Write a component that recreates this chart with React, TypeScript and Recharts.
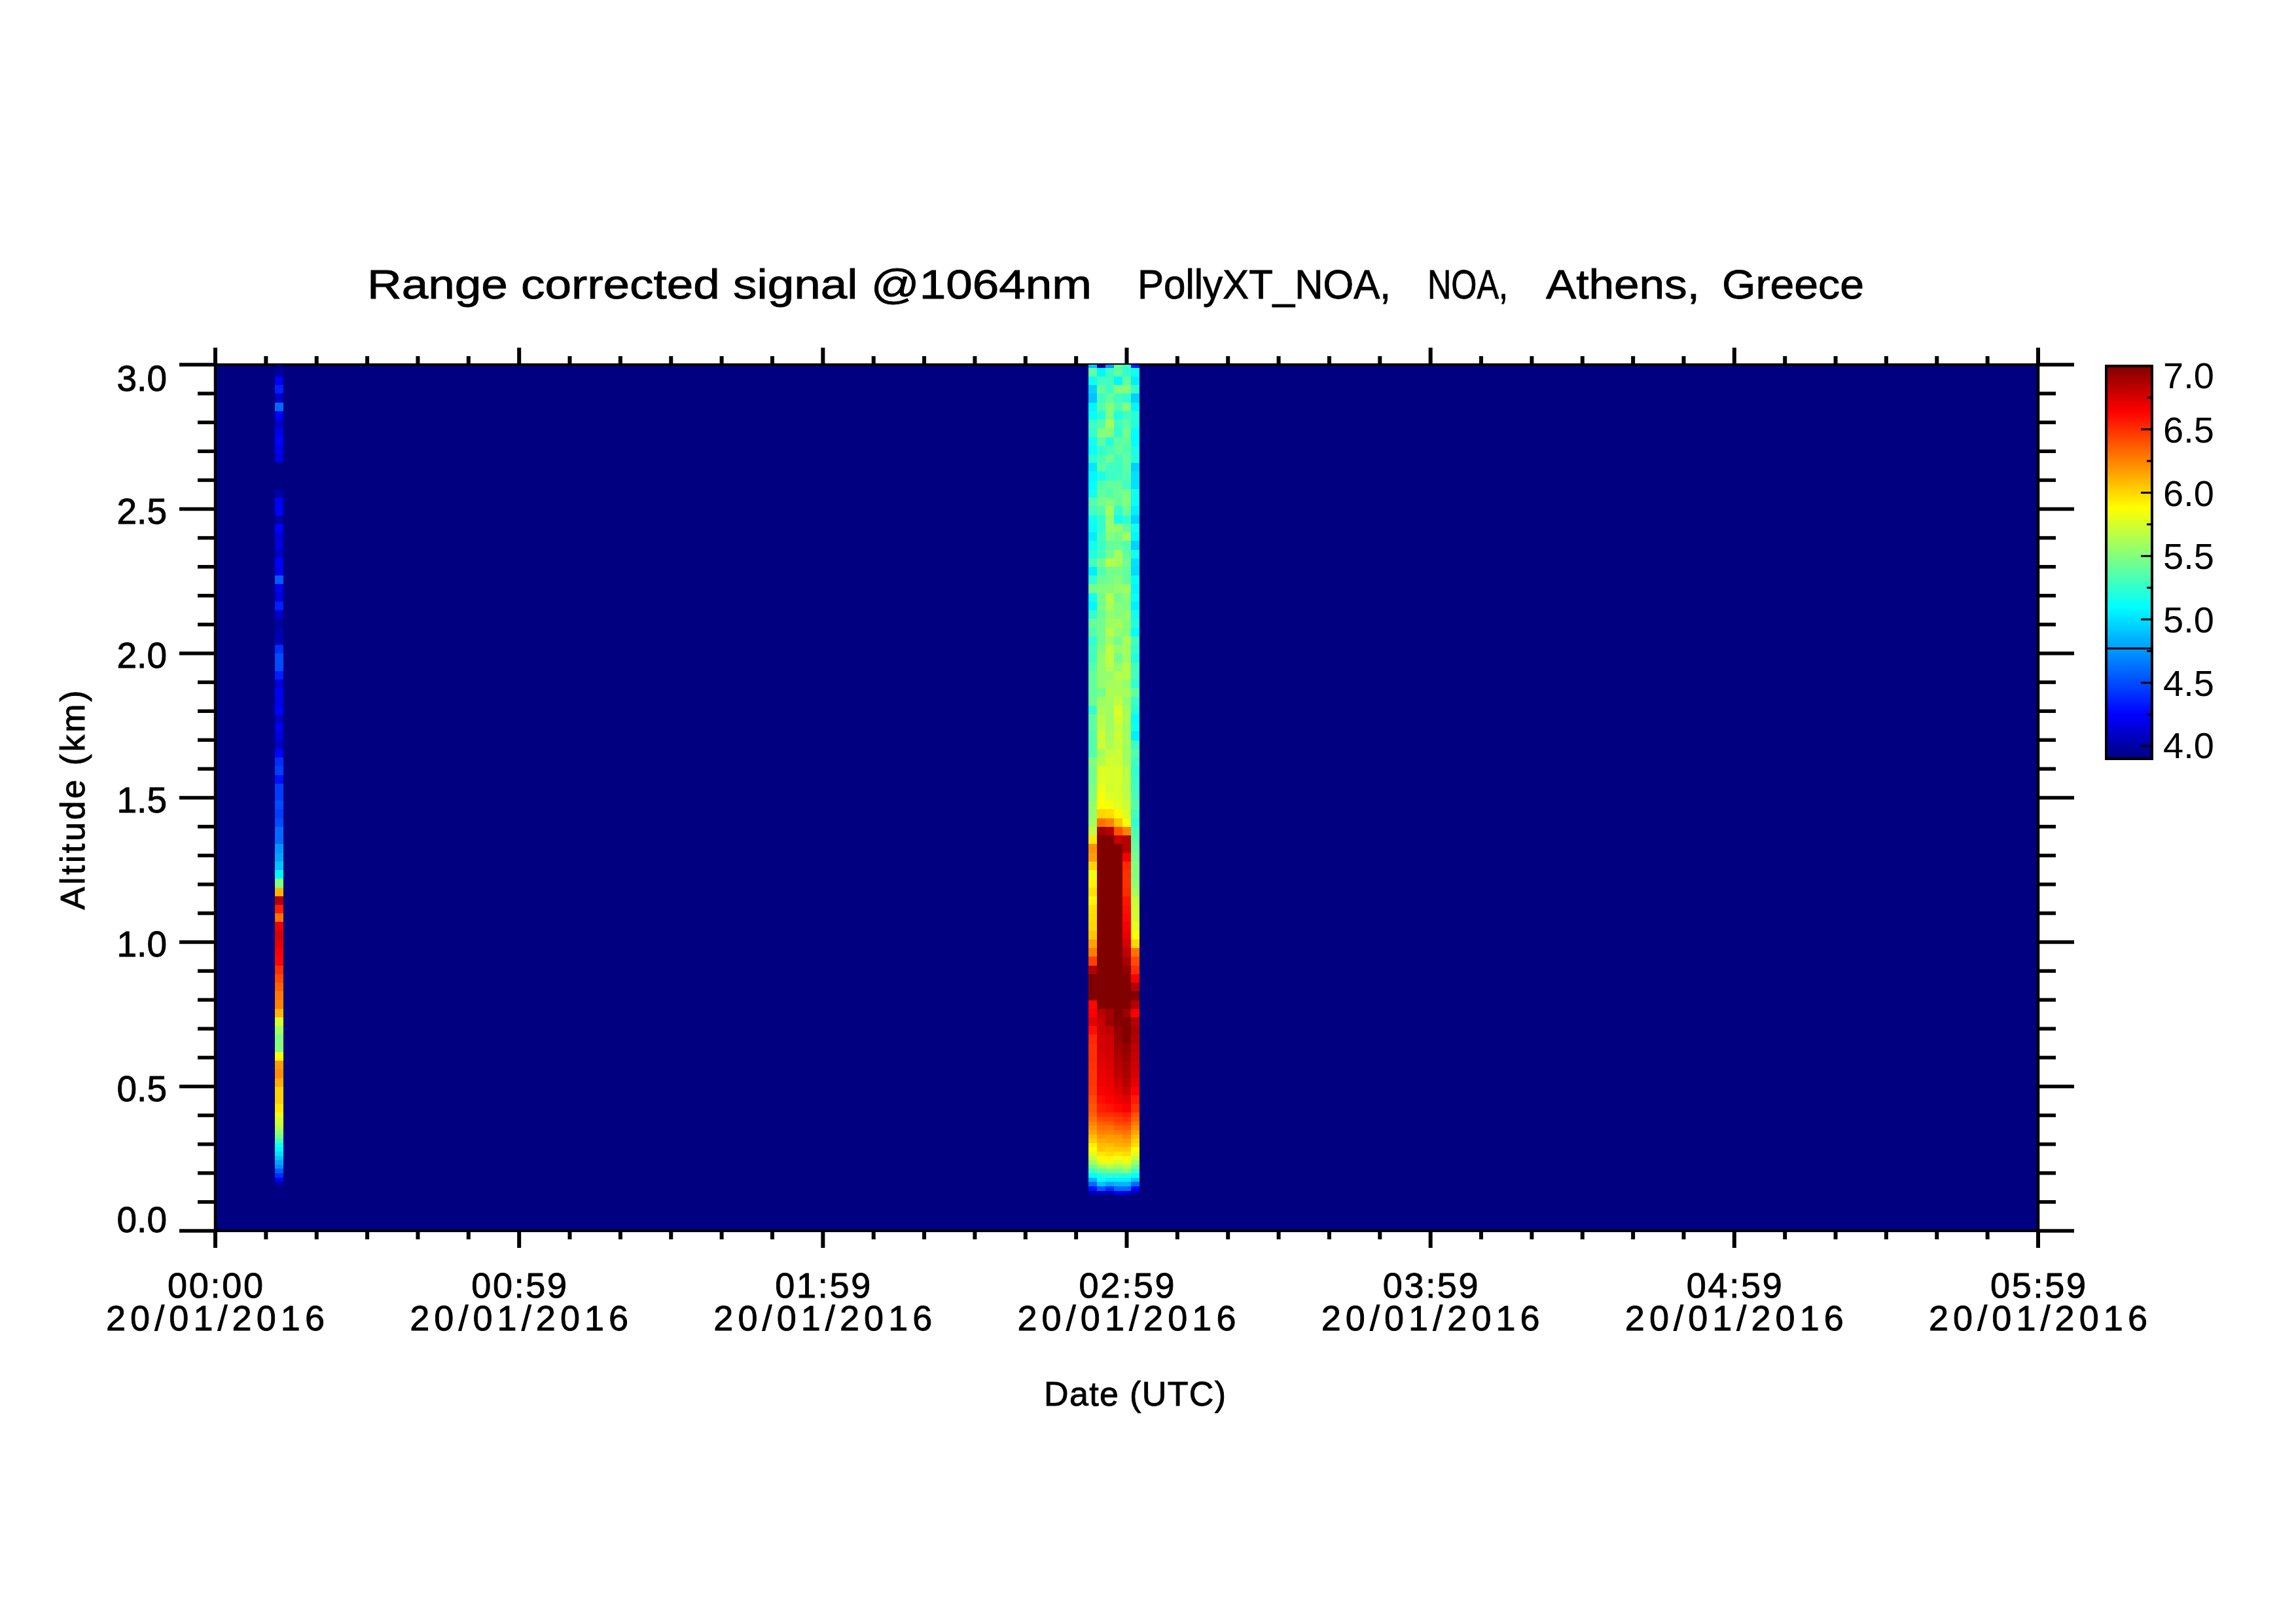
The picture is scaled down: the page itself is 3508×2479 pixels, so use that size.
import React from 'react';
import { ComposedChart, Bar, Scatter, XAxis, YAxis, CartesianGrid, ReferenceLine } from 'recharts';

const FONT = '"Liberation Sans", Arial, sans-serif';

// title words sit at their own positions, the plot font is narrow in capitals and wide in lowercase
const TITLE_PARTS: [string, string, number, number][] = [
  ['Range corrected signal @1064nm', '  ', 561, 1107],
  ['PollyXT_NOA,', ' ', 1738, 387],
  ['NOA,', ' ', 2181, 123],
  ['Athens,', ' ', 2362, 235],
  ['Greece', '', 2631, 217],
];
const TIME_LABELS = ['00:00', '00:59', '01:59', '02:59', '03:59', '04:59', '05:59'];
const DATE_LABEL = '20/01/2016';
const COLORBAR_LABELS = [4, 4.5, 5, 5.5, 6, 6.5, 7];
const COLORBAR_TICKS = [4, 4.25, 4.5, 4.75, 5, 5.25, 5.5, 5.75, 6, 6.25, 6.5, 6.75, 7];
const COLORBAR_DATA = [{ name: 'scale', range: [3.9, 7] }];
const COLOR_STOPS: [number, string][] = [
  [3.9, '#000080'],
  [4.25, '#0000ff'],
  [5.1, '#00ffff'],
  [5.88, '#ffff00'],
  [6.64, '#ff0000'],
  [7, '#800000'],
];

// minutes since 00:00, centre of each profile
const PROFILE_MINUTES = [12.51, 172.77, 174.45, 176.12, 177.8, 179.48, 181.15];
const PROFILE_WIDTH = 1.676;

// lower edge of each altitude bin (km), last entry closes the top bin
const ALTITUDE_EDGES = [
  0.125, 0.14, 0.155, 0.17, 0.185, 0.2, 0.215, 0.23, 0.245, 0.26, 0.275, 0.29, 0.305, 0.32, 0.335, 0.35, 0.365, 0.38, 0.395,
  0.41, 0.44, 0.47, 0.5, 0.53, 0.56, 0.59, 0.62, 0.65, 0.68, 0.71, 0.74, 0.77, 0.8, 0.83, 0.86, 0.89, 0.92, 0.95, 0.98,
  1.01, 1.04, 1.07, 1.1, 1.13, 1.16, 1.19, 1.22, 1.25, 1.28, 1.31, 1.34, 1.37, 1.4, 1.43, 1.46, 1.49, 1.52, 1.55, 1.58,
  1.61, 1.64, 1.67, 1.7, 1.73, 1.76, 1.79, 1.82, 1.85, 1.88, 1.91, 1.94, 1.97, 2.0, 2.03, 2.06, 2.09, 2.12, 2.15, 2.18,
  2.21, 2.24, 2.27, 2.3, 2.33, 2.36, 2.39, 2.42, 2.45, 2.48, 2.51, 2.54, 2.57, 2.6, 2.63, 2.66, 2.69, 2.72, 2.75, 2.78,
  2.81, 2.84, 2.87, 2.9, 2.93, 2.96, 2.99, 3.0,
];

const PROFILE_0 = [
  3.9, 3.9, 4.0, 4.25, 4.4, 4.55, 4.72, 4.8, 4.9, 5.0, 5.08, 5.15, 5.3, 5.45, 5.55, 5.65, 5.72, 5.75, 5.82,
  5.95, 6.02, 6.02, 6.12, 6.22, 6.18, 5.88, 5.52, 5.5, 5.6,
  5.75, 6.1, 6.25, 6.28, 6.35, 6.42, 6.5, 6.62, 6.65, 6.72,
  6.75, 6.7, 6.3, 6.55, 6.85, 6.1, 5.5, 5.08, 4.9, 4.8,
  4.75, 4.6, 4.6, 4.5, 4.45, 4.5, 4.45, 4.45, 4.3, 4.45,
  4.4, 4.25, 4.08, 4.15, 4.2, 4.1, 4.25, 4.2,
  4.22, 4.15, 4.35, 4.5, 4.5, 4.4, 4.05, 4.02, 3.98, 4.1, 4.35, 4.15, 4.2, 4.55, 4.2, 4.25, 4.1, 4.15, 4.15,
  4.25, 4.0, 4.25, 4.25, 4.0, 3.9, 3.9, 3.9, 4.15, 4.2, 4.25, 4.2, 4.1, 4.25, 4.6, 4.1, 4.35, 4.22, 3.98, 3.9,
];
const PROFILE_1 = [
  4.05, 4.3, 4.6, 4.85, 5.1, 5.3, 5.45, 5.6, 5.7, 5.8, 5.88, 5.93, 6.03, 6.08, 6.15, 6.2, 6.25, 6.3, 6.35,
  6.38, 6.42, 6.47, 6.48, 6.48, 6.49, 6.5, 6.5, 6.52, 6.6, 6.72, 6.65, 6.62, 7, 7, 7,
  6.85, 6.45, 6.27, 6.16, 6.05, 6.0, 5.98, 5.97, 5.9, 5.97,
  5.9, 5.83, 6.0, 6.17, 6.2, 5.95, 5.7, 5.6, 5.55, 5.55,
  5.5, 5.48, 5.45, 5.45, 5.5, 5.35, 5.35, 5.35, 5.38, 5.38, 5.25, 5.42,
  5.4, 5.4, 5.4, 5.35, 5.3, 5.3, 5.25, 5.35, 5.4, 5.25, 5.08, 5.15, 5.45, 5.25, 5.05, 5.3, 5.2, 5.15, 5.05,
  5.12, 5.15, 5.3, 5.35, 5.15, 5.1, 5.08, 5.03, 5.22, 5.12, 5.15, 5.25, 5.28, 5.12, 5.08, 4.9, 4.95, 5.15, 5.4, 4.9,
];
const PROFILE_2 = [
  4.1, 4.55, 4.9, 5.1, 5.2, 5.4, 5.6, 5.8, 5.9, 5.95, 6.05, 6.08, 6.12, 6.2, 6.25, 6.3, 6.35, 6.42, 6.5,
  6.55, 6.6, 6.66, 6.68, 6.7, 6.72, 6.74, 6.76, 6.76, 6.8, 6.8, 6.84,
  7, 7, 7, 7, 7, 7, 7, 7, 7, 7, 7, 7, 7, 7, 7, 7, 7, 7, 7, 7,
  6.9, 6.3, 6.0, 5.88, 5.85, 5.82, 5.78, 5.78, 5.65, 5.6, 5.72, 5.72, 5.68, 5.66, 5.62, 5.58,
  5.45, 5.55, 5.55, 5.55, 5.55, 5.5, 5.45, 5.45, 5.45, 5.42, 5.45, 5.45, 5.5, 5.42, 5.35, 5.45, 5.3, 5.28, 5.3,
  5.25, 5.25, 5.35, 5.45, 5.4, 5.35, 5.18, 5.38, 5.32, 5.25, 5.38, 5.5, 5.35, 5.22, 5.35, 5.3, 5.4, 5.3, 5.08, 4.0,
];
const PROFILE_3 = [
  4.05, 4.4, 4.8, 5.05, 5.2, 5.45, 5.65, 5.8, 5.9, 5.98, 6.03, 6.08, 6.15, 6.18, 6.25, 6.3, 6.37, 6.43, 6.5,
  6.58, 6.64, 6.67, 6.7, 6.72, 6.74, 6.76, 6.77, 6.78, 6.82, 6.92, 6.9,
  7, 7, 7, 7, 7, 7, 7, 7, 7, 7, 7, 7, 7, 7, 7, 7, 7, 7, 7, 7,
  6.85, 6.25, 5.98, 5.85, 5.78, 5.74, 5.76, 5.76, 5.74, 5.7, 5.62, 5.6, 5.58, 5.58, 5.58, 5.6,
  5.62, 5.6, 5.55, 5.65, 5.68, 5.68, 5.58, 5.65, 5.58, 5.55, 5.62, 5.65, 5.5, 5.45, 5.45, 5.65, 5.45, 5.4, 5.5,
  5.55, 5.55, 5.6, 5.5, 5.35, 5.4, 5.28, 5.3, 5.42, 5.32, 5.22, 5.5, 5.6, 5.48, 5.5, 5.4, 5.3, 5.3, 5.28, 4.75,
];
const PROFILE_4 = [
  4.2, 4.6, 4.85, 5.05, 5.2, 5.45, 5.6, 5.75, 5.85, 5.95, 6.05, 6.12, 6.15, 6.2, 6.28, 6.35, 6.42, 6.47, 6.52,
  6.62, 6.68, 6.74, 6.78, 6.82, 6.84, 6.87, 6.9, 6.93, 6.95, 6.98,
  7, 7, 7, 7, 7, 7, 7, 7, 7, 7, 7, 7, 7, 7, 7, 7, 7, 7, 7, 7,
  6.8, 6.4, 6.05, 5.9, 5.78, 5.76, 5.75, 5.76, 5.76, 5.72, 5.72, 5.7, 5.72, 5.7, 5.75, 5.78, 5.68,
  5.62, 5.62, 5.65, 5.55, 5.45, 5.55, 5.45, 5.55, 5.6, 5.5, 5.5, 5.45, 5.55, 5.5, 5.45, 5.6, 5.6, 5.42, 5.45,
  5.55, 5.15, 5.25, 5.4, 5.42, 5.4, 5.3, 5.28, 5.3, 5.4, 5.38, 5.25, 5.3, 5.2, 5.35, 5.3, 5.5, 5.08, 5.4, 5.4,
];
const PROFILE_5 = [
  4.15, 4.6, 4.85, 5.05, 5.2, 5.5, 5.65, 5.8, 5.9, 5.98, 6.05, 6.12, 6.18, 6.25, 6.3, 6.37, 6.43, 6.5, 6.56,
  6.66, 6.72, 6.8, 6.85, 6.88, 6.9, 6.93, 6.95, 7, 7,
  7, 6.92, 7, 7, 7, 7, 6.95, 6.88, 6.82, 6.76,
  6.7, 6.66, 6.62, 6.6, 6.58, 6.52, 6.5, 6.5, 6.52, 6.65,
  6.85, 6.85, 6.25, 5.85, 5.75, 5.72, 5.68, 5.66, 5.66, 5.66,
  5.6, 5.58, 5.6, 5.6, 5.58, 5.62, 5.6, 5.55,
  5.6, 5.55, 5.65, 5.65, 5.58, 5.6, 5.62, 5.5, 5.52, 5.55, 5.48, 5.52, 5.58, 5.4, 5.4, 5.45, 5.4, 5.35, 5.6,
  5.4, 5.25, 5.42, 5.5, 5.48, 5.3, 5.35, 5.38, 5.4, 5.35, 5.4, 5.45, 5.38, 5.3, 5.5, 5.25, 5.5, 5.4, 5.25, 5.28,
];
const PROFILE_6 = [
  4.0, 4.25, 4.6, 4.9, 5.12, 5.3, 5.45, 5.6, 5.7, 5.8, 5.88, 5.98, 6.03, 6.08, 6.15, 6.22, 6.28, 6.35, 6.4,
  6.5, 6.56, 6.64, 6.72, 6.75, 6.77, 6.8, 6.82, 6.85, 6.88,
  6.85, 6.65, 6.85, 7, 6.85, 6.65, 6.5, 6.42, 6.3, 6.0,
  5.87, 5.8, 5.75, 5.72, 5.7, 5.6, 5.53, 5.5, 5.5, 5.46,
  5.42, 5.38, 5.33, 5.25, 5.3, 5.36, 5.32, 5.3, 5.28, 5.26,
  5.3, 5.35, 5.28, 5.05, 5.15, 5.1, 5.22, 5.28,
  5.4, 5.25, 5.3, 5.3, 5.2, 5.25, 5.3, 5.1, 5.2, 5.15, 5.05, 5.12, 5.08, 5.12, 4.98, 5.0, 5.15, 4.95, 5.08,
  5.15, 4.95, 5.05, 5.12, 5.15, 5.0, 5.0, 4.95, 5.2, 5.18, 5.1, 5.1, 5.2, 5.22, 5.08, 4.95, 5.25, 5.05, 5.15, 4.35,
];
const PROFILES = [PROFILE_0, PROFILE_1, PROFILE_2, PROFILE_3, PROFILE_4, PROFILE_5, PROFILE_6];

const MAX_MINUTE = 359;
const MAX_ALTITUDE = 3;
const PLOT_LEFT = 329;
const PLOT_RIGHT = 394;
const PLOT_TOP = 557;
const PLOT_BOTTOM = 599;
const PLOT_WIDTH = 3508 - PLOT_LEFT - PLOT_RIGHT;
const PLOT_HEIGHT = 2479 - PLOT_TOP - PLOT_BOTTOM;

const minuteTicks = Array.from({ length: 37 }, (_, i) => (i * MAX_MINUTE) / 36);
const altitudeTicks = Array.from({ length: 31 }, (_, i) => i / 10);

const hexToRgb = (hex: string) => [1, 3, 5].map(i => parseInt(hex.slice(i, i + 2), 16));

const jetColor = (value: number) => {
  const v = Math.min(7, Math.max(3.9, value));
  for (let i = 1; i < COLOR_STOPS.length; i++) {
    if (v <= COLOR_STOPS[i][0]) {
      const [v0, c0] = COLOR_STOPS[i - 1];
      const [v1, c1] = COLOR_STOPS[i];
      const t = (v - v0) / (v1 - v0);
      const a = hexToRgb(c0);
      const b = hexToRgb(c1);
      return `rgb(${a.map((ch, k) => Math.round(ch + (b[k] - ch) * t)).join(',')})`;
    }
  }
  return COLOR_STOPS[COLOR_STOPS.length - 1][1];
};

const cells = PROFILES.flatMap((values, col) =>
  values.map((value, row) => ({
    minute: PROFILE_MINUTES[col],
    altitude: (ALTITUDE_EDGES[row] + ALTITUDE_EDGES[row + 1]) / 2,
    thickness: ALTITUDE_EDGES[row + 1] - ALTITUDE_EDGES[row],
    value,
  })),
);

const HeatCell = (props: any) => {
  const { cx, cy, payload } = props;
  const w = (PROFILE_WIDTH / MAX_MINUTE) * PLOT_WIDTH;
  const h = (payload.thickness / MAX_ALTITUDE) * PLOT_HEIGHT;
  return (
    <rect
      x={cx - w / 2}
      y={cy - h / 2 - 0.3}
      width={w + 0.3}
      height={h + 0.6}
      fill={jetColor(payload.value)}
      shapeRendering="crispEdges"
    />
  );
};

const labelStyle = { fontFamily: FONT, fill: '#000', stroke: '#000', strokeWidth: 0.9 };

// draws the bottom tick, its labels and the matching tick on the top edge
const TimeTick = ({ x, y, index }: any) => {
  const major = index % 6 === 0;
  const len = major ? 26 : 13;
  return (
    <g>
      <line x1={x} x2={x} y1={y} y2={y + len} stroke="#000" strokeWidth={6} />
      <line x1={x} x2={x} y1={y - PLOT_HEIGHT} y2={y - PLOT_HEIGHT - len} stroke="#000" strokeWidth={6} />
      {major && (
        <>
          <text x={x} y={1982} textAnchor="middle" fontSize={54} textLength={146} {...labelStyle}>
            {TIME_LABELS[index / 6]}
          </text>
          <text x={x} y={2032} textAnchor="middle" fontSize={54} textLength={334} {...labelStyle}>
            {DATE_LABEL}
          </text>
        </>
      )}
    </g>
  );
};

// draws the left tick, its label and the matching tick on the right edge
const AltitudeTick = ({ x, y, index, payload }: any) => {
  const major = index % 5 === 0;
  const v = payload.value;
  const len = major ? 55 : 27;
  const baseline = v === 3 ? y + 40 : v === 0 ? y + 2 : y + 22;
  return (
    <g>
      <line x1={x} x2={x - len} y1={y} y2={y} stroke="#000" strokeWidth={5.5} />
      <line x1={x + PLOT_WIDTH} x2={x + PLOT_WIDTH + len} y1={y} y2={y} stroke="#000" strokeWidth={5.5} />
      {major && (
        <text x={255} y={baseline} textAnchor="end" fontSize={55} {...labelStyle}>
          {v.toFixed(1)}
        </text>
      )}
    </g>
  );
};

const ColorbarTick = ({ x, y, payload }: any) => {
  const v = payload.value;
  const labelled = COLORBAR_LABELS.includes(v);
  return (
    <g>
      {v !== 7 && <line x1={x} x2={x - (labelled ? 17 : 8)} y1={y} y2={y} stroke="#000" strokeWidth={3} />}
      {labelled && (
        <text x={x + 17} y={v === 7 ? y + 34 : v === 4 ? y + 18 : y + 20} fontFamily={FONT} fontSize={56} fill="#000">
          {v.toFixed(1)}
        </text>
      )}
    </g>
  );
};

const Colorbar = () => (
  <ComposedChart
    width={358}
    height={700}
    margin={{ top: 59, right: 0, bottom: 41, left: 68 }}
    data={COLORBAR_DATA}
    barCategoryGap={0}
  >
    <defs>
      <linearGradient id="jet" x1="0" y1="0" x2="0" y2="1">
        {[...COLOR_STOPS].reverse().map(([v, c]) => (
          <stop key={v} offset={(7 - v) / 3.1} stopColor={c} />
        ))}
      </linearGradient>
    </defs>
    <XAxis dataKey="name" hide />
    <YAxis
      type="number"
      orientation="right"
      domain={[3.9, 7]}
      ticks={COLORBAR_TICKS}
      interval={0}
      width={220}
      axisLine={false}
      tickLine={false}
      tickSize={0}
      tickMargin={0}
      tick={<ColorbarTick />}
    />
    <Bar dataKey="range" fill="url(#jet)" stroke="#000" strokeWidth={4} isAnimationActive={false} />
    <ReferenceLine y={4.77} stroke="#000" strokeWidth={3} />
  </ComposedChart>
);

const App: React.FC = () => {
  return (
    <div style={{ position: 'absolute', left: 0, top: 0, width: 3508, height: 2479, background: '#fff' }}>
      <ComposedChart width={3508} height={2479} margin={{ top: 0, right: 0, bottom: 0, left: 0 }}>
        <CartesianGrid xAxisId="bottom" yAxisId="left" horizontal={false} vertical={false} fill="#000080" fillOpacity={1} />
        <XAxis
          xAxisId="bottom"
          dataKey="minute"
          type="number"
          domain={[0, MAX_MINUTE]}
          ticks={minuteTicks}
          interval={0}
          height={PLOT_BOTTOM}
          axisLine={{ stroke: '#000', strokeWidth: 4 }}
          tickLine={false}
          tickSize={0}
          tickMargin={0}
          tick={<TimeTick />}
        />
        <XAxis
          xAxisId="top"
          orientation="top"
          type="number"
          domain={[0, MAX_MINUTE]}
          height={PLOT_TOP}
          axisLine={{ stroke: '#000', strokeWidth: 4 }}
          tick={false}
        />
        <YAxis
          yAxisId="left"
          dataKey="altitude"
          type="number"
          domain={[0, MAX_ALTITUDE]}
          ticks={altitudeTicks}
          interval={0}
          width={PLOT_LEFT}
          axisLine={{ stroke: '#000', strokeWidth: 4.5 }}
          tickLine={false}
          tickSize={0}
          tickMargin={0}
          tick={<AltitudeTick />}
        />
        <YAxis
          yAxisId="right"
          orientation="right"
          type="number"
          domain={[0, MAX_ALTITUDE]}
          width={PLOT_RIGHT}
          axisLine={{ stroke: '#000', strokeWidth: 4.5 }}
          tick={false}
        />
        <Scatter
          xAxisId="bottom"
          yAxisId="left"
          data={cells}
          shape={HeatCell}
          isAnimationActive={false}
        />
        <text y={456} fontSize={63} style={{ whiteSpace: 'pre' }} {...labelStyle}>
          {TITLE_PARTS.map(([part, gap, x, length]) => (
            <React.Fragment key={part}>
              <tspan x={x} textLength={length} lengthAdjust="spacingAndGlyphs">
                {part}
              </tspan>
              {gap}
            </React.Fragment>
          ))}
        </text>
        <text x={1734} y={2147} textAnchor="middle" fontSize={52} textLength={278} {...labelStyle}>
          Date (UTC)
        </text>
        <text
          transform="translate(129 1222) rotate(-90)"
          textAnchor="middle"
          fontSize={52}
          textLength={335}
          {...labelStyle}
        >
          Altitude (km)
        </text>
      </ComposedChart>
      <div style={{ position: 'absolute', left: 3150, top: 500 }}>
        <Colorbar />
      </div>
    </div>
  );
};

export default App;
